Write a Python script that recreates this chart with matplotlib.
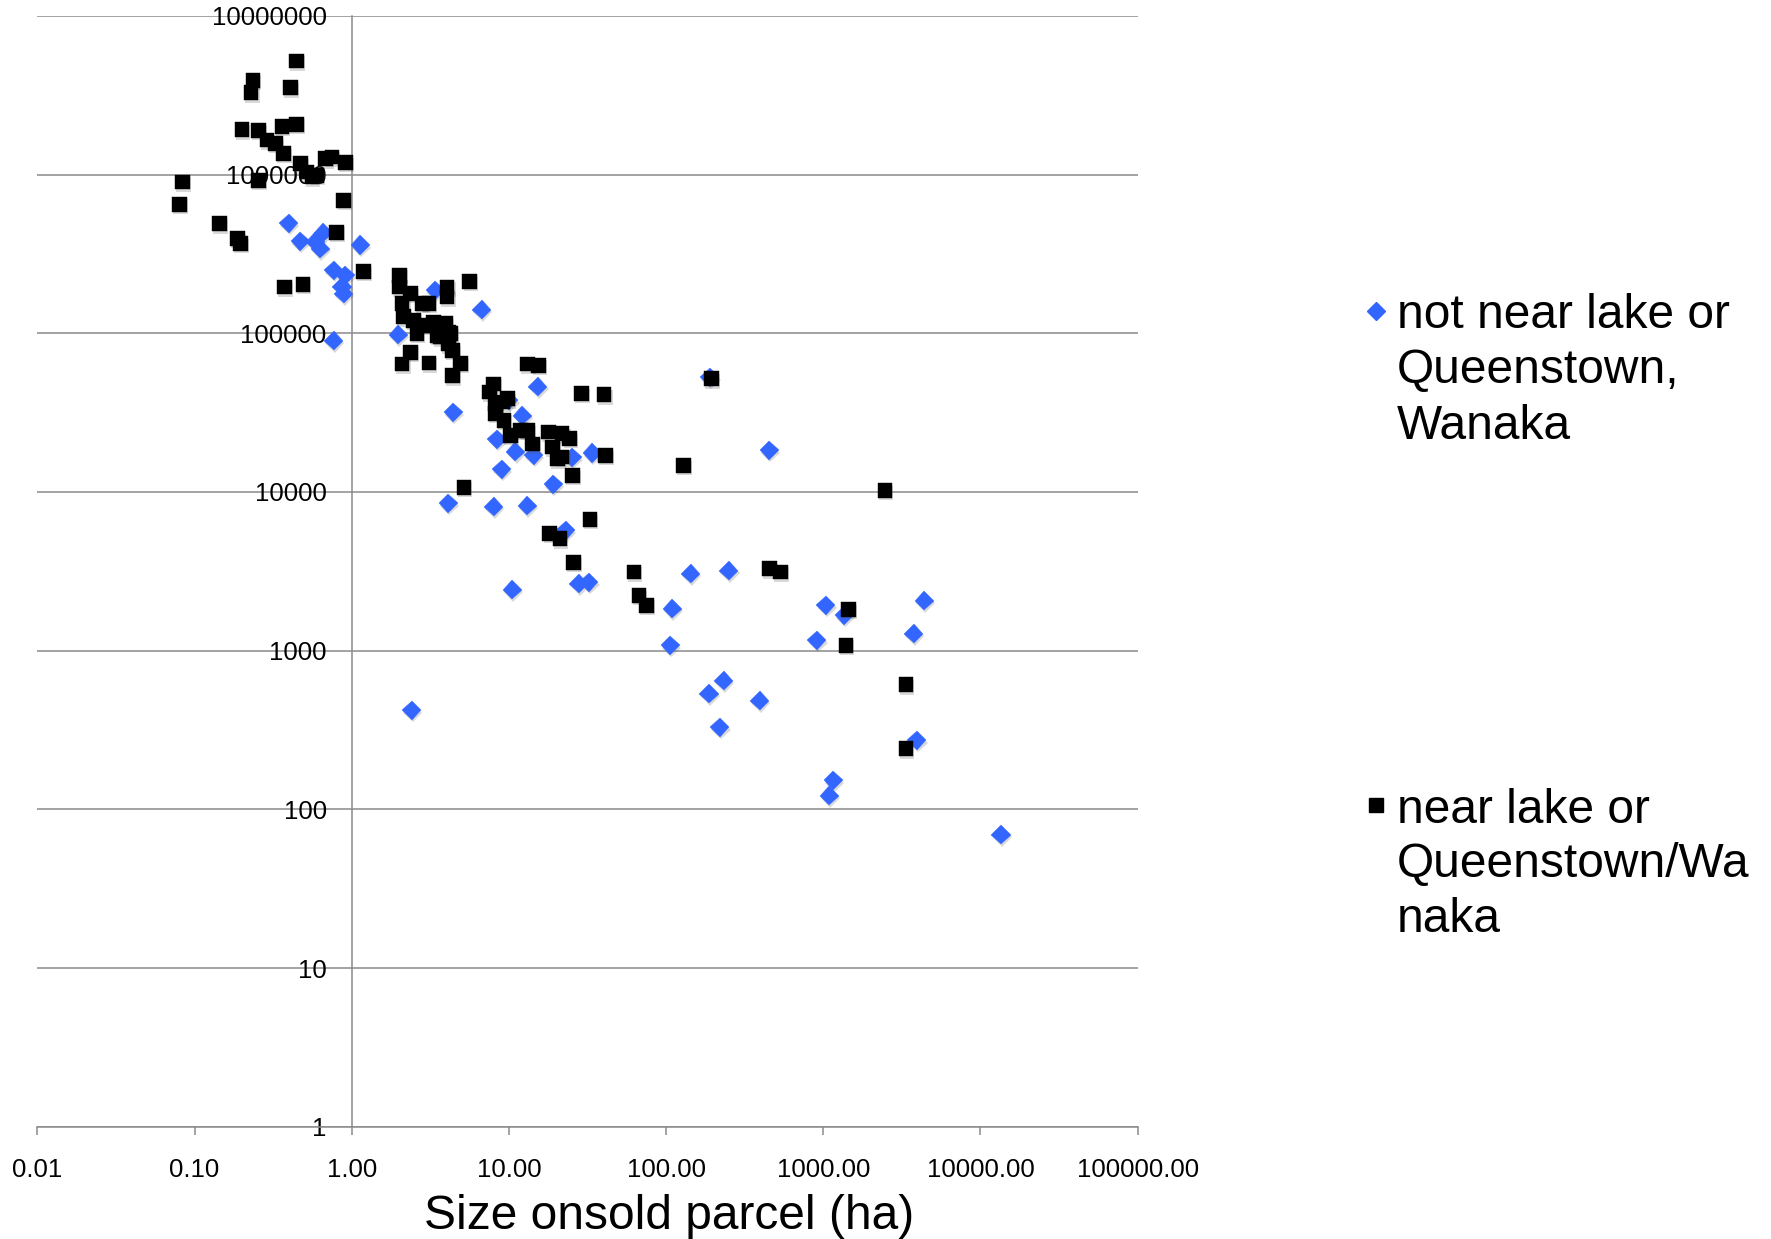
import matplotlib
matplotlib.use('Agg')
import matplotlib.pyplot as plt
import matplotlib.patheffects as pe
from matplotlib.lines import Line2D

plt.rcParams['font.family'] = ['Liberation Sans', 'DejaVu Sans']

# ---------------- data ----------------
# series 1: not near lake or Queenstown, Wanaka (blue diamonds)
far_size = [0.397, 0.47, 0.63, 0.66, 0.584, 1.13, 0.767, 0.91, 0.867, 0.89,
            0.767, 1.98, 3.4, 6.7, 4.42, 15.3, 10.0, 12.2, 8.4, 11.0,
            14.4, 25.3, 33.9, 9.0, 19.1, 4.1, 8.0, 13.1, 23.0, 10.5,
            27.9, 32.3, 2.4, 190, 453, 143.6, 251, 109.6, 106, 1040,
            1358, 912, 4395, 3760, 232, 187.5, 394, 220, 3947, 1156,
            1089, 13520]
far_price = [4.95e5, 3.8e5, 3.42e5, 4.3e5, 3.77e5, 3.6e5, 2.5e5, 2.32e5, 1.96e5, 1.78e5,
             9.0e4, 9.8e4, 1.87e5, 1.41e5, 3.17e4, 4.6e4, 3.78e4, 3.02e4, 2.15e4, 1.79e4,
             1.70e4, 1.66e4, 1.76e4, 1.39e4, 1.12e4, 8.5e3, 8.1e3, 8.2e3, 5.73e3, 2.42e3,
             2.64e3, 2.70e3, 420, 5.3e4, 1.83e4, 3.05e3, 3.2e3, 1.84e3, 1.08e3, 1.93e3,
             1.67e3, 1.16e3, 2.07e3, 1.28e3, 648, 535, 485, 330, 272, 152,
             122, 69]

# series 2: near lake or Queenstown/Wanaka (black squares)
near_size = [0.444, 0.235, 0.229, 0.406, 0.200, 0.255, 0.289, 0.360, 0.444, 0.326,
             0.368, 0.471, 0.519, 0.601, 0.558, 0.679, 0.749, 0.910, 0.255, 0.084,
             0.080, 0.144, 0.188, 0.195, 0.890, 0.800, 1.19, 0.374, 0.489,
             2.02, 2.02, 2.36, 4.04, 4.04, 5.64, 2.09, 2.80, 3.10, 2.14,
             2.48, 2.87, 3.33, 3.94, 4.14, 2.60, 3.49, 2.36, 2.09, 3.10,
             4.36, 4.92, 4.36, 4.25, 3.66, 4.14, 13.1, 15.5, 8.0, 7.5,
             8.2, 9.1, 8.2, 9.3, 9.75, 10.2, 11.9, 13.1, 14.1, 17.9,
             21.8, 18.9, 20.3, 24.4, 21.8, 28.9, 40.3, 194, 41.2, 25.3,
             129, 5.17, 32.8, 18.2, 21.1, 25.7, 62.5, 453, 532, 67.2,
             75, 2466, 1442, 1393, 3358, 3358]
near_price = [5.19e6, 3.93e6, 3.28e6, 3.53e6, 1.92e6, 1.90e6, 1.65e6, 2.02e6, 2.08e6, 1.57e6,
              1.36e6, 1.17e6, 1.04e6, 9.9e5, 9.7e5, 1.26e6, 1.29e6, 1.19e6, 9.2e5, 9.0e5,
              6.5e5, 4.9e5, 3.95e5, 3.68e5, 6.9e5, 4.33e5, 2.45e5, 1.96e5, 2.04e5,
              2.32e5, 1.96e5, 1.78e5, 1.96e5, 1.69e5, 2.13e5, 1.54e5, 1.54e5, 1.54e5, 1.27e5,
              1.21e5, 1.12e5, 1.18e5, 1.15e5, 1.02e5, 1.00e5, 9.7e4, 7.6e4, 6.4e4, 6.5e4,
              7.8e4, 6.44e4, 5.4e4, 9.96e4, 9.5e4, 8.6e4, 6.4e4, 6.3e4, 4.8e4, 4.27e4,
              3.6e4, 3.69e4, 3.12e4, 2.83e4, 3.87e4, 2.27e4, 2.44e4, 2.44e4, 2.01e4, 2.39e4,
              2.33e4, 1.92e4, 1.62e4, 2.17e4, 1.66e4, 4.17e4, 4.1e4, 5.17e4, 1.70e4, 1.27e4,
              1.47e4, 1.07e4, 6.7e3, 5.5e3, 5.08e3, 3.6e3, 3.13e3, 3.28e3, 3.13e3, 2.23e3,
              1.93e3, 1.02e4, 1.82e3, 1.08e3, 610, 241]

x_ticks = [0.01, 0.1, 1, 10, 100, 1000, 10000, 100000]
x_tick_labels = ['0.01', '0.10', '1.00', '10.00', '100.00', '1000.00', '10000.00', '100000.00']
y_ticks = [1, 10, 100, 1000, 10000, 100000, 1000000, 10000000]
y_tick_labels = ['1', '10', '100', '1000', '10000', '100000', '1000000', '10000000']

label_far = ['not near lake or', 'Queenstown,', 'Wanaka']
label_near = ['near lake or', 'Queenstown/Wa', 'naka']
x_title = 'Size onsold parcel (ha)'

# ---------------- styling ----------------
BLUE = '#3366ff'
GRAY = '#8a8a8a'
W, H = 1771, 1239

fig = plt.figure(figsize=(W / 100, H / 100), dpi=100)
ax = fig.add_axes([37.4 / W, 1 - 1126.7 / H, (1137.6 - 37.4) / W, (1126.7 - 15.8) / H])

ax.set_xscale('log')
ax.set_yscale('log')
ax.set_xlim(0.01, 100000)
ax.set_ylim(1, 10000000 * 1.002)

shadow = [pe.SimplePatchShadow(offset=(0.8, -1.8), shadow_rgbFace='#555555', alpha=0.22), pe.Normal()]

ax.plot(far_size, far_price, linestyle='none', marker='D', markersize=9.7,
        markerfacecolor=BLUE, markeredgecolor=BLUE, markeredgewidth=0.3,
        zorder=3, path_effects=shadow, clip_on=False)
ax.plot(near_size, near_price, linestyle='none', marker='s', markersize=10.6,
        markerfacecolor='black', markeredgecolor='black', markeredgewidth=0.3,
        zorder=4, path_effects=shadow, clip_on=False)

# axes
for s in ['top', 'right']:
    ax.spines[s].set_visible(False)
ax.spines['left'].set_position(('data', 1))
ax.spines['left'].set_color(GRAY)
ax.spines['left'].set_linewidth(1.1)
ax.spines['bottom'].set_color(GRAY)
ax.spines['bottom'].set_linewidth(1.1)

ax.set_xticks(x_ticks)
ax.set_xticklabels(x_tick_labels)
ax.set_yticks(y_ticks)
ax.set_yticklabels(y_tick_labels)
ax.minorticks_off()
ax.tick_params(axis='x', direction='out', length=5.8, width=1.1, color=GRAY,
               labelsize=18.5, pad=16.5)
ax.tick_params(axis='y', length=0, labelsize=18.5, pad=18)
ax.yaxis.grid(True, color=GRAY, linewidth=1.1)
ax.set_axisbelow(True)

# x axis title
fig.text(668.7 / W, 1 - 1216.5 / H, x_title, ha='center', va='center', fontsize=34.5)

# legend (manual, Excel-like layout)
def legend_entry(marker, color, msize, y_marker, baselines, lines):
    fig.add_artist(Line2D([1375.7 / W], [1 - y_marker / H], transform=fig.transFigure,
                          marker=marker, markersize=msize, linestyle='none',
                          markerfacecolor=color, markeredgecolor=color))
    for b, t in zip(baselines, lines):
        fig.text(1397 / W, 1 - b / H, t, ha='left', va='baseline', fontsize=34.5)

legend_entry('D', BLUE, 9.5, 310.6, [328.4, 383.0, 438.8], label_far)
legend_entry('s', 'black', 10.6, 804.8, [822.7, 877.0, 932.4], label_near)

fig.savefig('out.png', dpi=100)
